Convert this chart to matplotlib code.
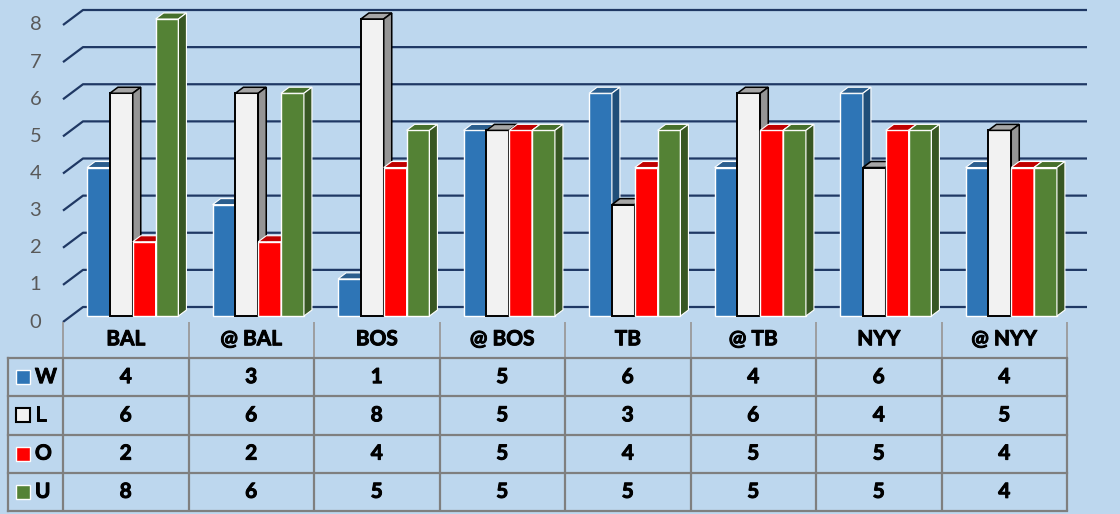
import matplotlib
matplotlib.use('Agg')
import matplotlib.pyplot as plt
import matplotlib.patheffects as pe
from matplotlib.patches import Polygon

# ---------------- data ----------------
categories = ['BAL', '@ BAL', 'BOS', '@ BOS', 'TB', '@ TB', 'NYY', '@ NYY']
series_names = ['W', 'L', 'O', 'U']
W = [4, 3, 1, 5, 6, 4, 6, 4]
L = [6, 6, 8, 5, 3, 6, 4, 5]
O = [2, 2, 4, 5, 4, 5, 5, 4]
U = [8, 6, 5, 5, 5, 5, 5, 4]
y_ticks = [0, 1, 2, 3, 4, 5, 6, 7, 8]

series_values = [W, L, O, U]
front_colors = ['#2E75B6', '#F2F2F2', '#FF0000', '#548235']
top_colors = ['#2B5E8E', '#A6A6A6', '#C00000', '#46702C']
side_colors = ['#1F4E79', '#959595', '#C00000', '#385723']
edge_colors = ['white', 'black', 'white', 'white']

BG = '#BDD7EE'
GRID = '#1F3864'
FONT = ['Lato', 'DejaVu Sans']
BOLD_FX = [pe.withStroke(linewidth=0.7, foreground='black')]

W_PX, H_PX = 1120, 514
fig = plt.figure(figsize=(W_PX / 100, H_PX / 100), dpi=100)
fig.patch.set_facecolor(BG)

# plot area (front plane) in pixels
X0, X1 = 63, 1067
Y0, Y8 = 322, 25
ax = fig.add_axes([X0 / W_PX, 1 - Y0 / H_PX, (X1 - X0) / W_PX, (Y0 - Y8) / H_PX])
ax.set_xlim(0, 8)
ax.set_ylim(0, 8)
ax.axis('off')
ax.patch.set_alpha(0)

px_x = (X1 - X0) / 8.0
px_y = (Y0 - Y8) / 8.0

def dxu(p):
    return p / px_x

def dyu(p):
    return p / px_y

# 3D offsets
BACK_X, BACK_Y = dxu(20), dyu(15)
FRONT_X, FRONT_Y = dxu(7), dyu(6)
DEP_X, DEP_Y = dxu(8), dyu(6)

# gridlines: diagonal + back horizontal
for v in y_ticks:
    ax.plot([0, BACK_X, 8 + BACK_X], [v, v + BACK_Y, v + BACK_Y],
            color=GRID, lw=1.6, zorder=1, clip_on=False, solid_capstyle='butt')
    ax.text(-dxu(63 - 35.5), v, str(v), ha='center', va='center',
            color='#595959', fontsize=14.5, family=FONT)

# bars
bw = 0.182
n = len(series_values)
for s, vals in enumerate(series_values):
    xs = [i + 0.5 - n * bw / 2 + s * bw + FRONT_X for i in range(len(categories))]
    z = 2 + s * 3
    lw = 1.4 if edge_colors[s] == 'black' else 1.0
    ax.bar(xs, vals, width=bw, bottom=FRONT_Y, align='edge',
           color=front_colors[s], edgecolor=edge_colors[s], linewidth=lw,
           zorder=z, clip_on=False)
    for x, v in zip(xs, vals):
        yt = v + FRONT_Y
        top = Polygon([(x, yt), (x + bw, yt), (x + bw + DEP_X, yt + DEP_Y), (x + DEP_X, yt + DEP_Y)],
                      closed=True, facecolor=top_colors[s], edgecolor=edge_colors[s],
                      linewidth=lw * 0.8, zorder=z + 1, clip_on=False)
        side = Polygon([(x + bw, FRONT_Y), (x + bw + DEP_X, FRONT_Y + DEP_Y),
                        (x + bw + DEP_X, yt + DEP_Y), (x + bw, yt)],
                       closed=True, facecolor=side_colors[s], edgecolor=edge_colors[s],
                       linewidth=lw * 0.8, zorder=z + 2, clip_on=False)
        ax.add_patch(top)
        ax.add_patch(side)

# ---------------- data table ----------------
TX0, TY_TOP, TY_BOT = 8, 322, 511
tax = fig.add_axes([TX0 / W_PX, 1 - TY_BOT / H_PX, (X1 - TX0) / W_PX, (TY_BOT - TY_TOP) / H_PX])
row_h = (TY_BOT - 358) / 4.0
xleft = -(X0 - TX0) / px_x
ytop = 4 + (358 - TY_TOP) / row_h
tax.set_xlim(xleft, 8)
tax.set_ylim(0, ytop)
tax.axis('off')
tax.patch.set_alpha(0)

TLINE = '#7F7F7F'
for c in range(9):
    tax.plot([c, c], [4, ytop], color='#9A9A9A', lw=1.3, clip_on=False, solid_capstyle='butt')
    tax.plot([c, c], [0, 4], color=TLINE, lw=1.6, clip_on=False, solid_capstyle='butt')
for r in range(5):
    tax.plot([xleft, 8], [r, r], color=TLINE, lw=1.6, clip_on=False, solid_capstyle='projecting')
tax.plot([xleft, xleft], [0, 4], color=TLINE, lw=1.6, clip_on=False, solid_capstyle='projecting')

for i, cat in enumerate(categories):
    tax.text(i + 0.5, 4 + (ytop - 4) * 0.52, cat, ha='center', va='center',
             fontsize=15, fontweight='bold', family=FONT, color='black', path_effects=BOLD_FX)

for s, (name, vals) in enumerate(zip(series_names, series_values)):
    yc = 3.5 - s
    tax.plot([xleft + dxu(23 - TX0)], [yc], marker='s', ms=10,
             mfc=front_colors[s], mec=('black' if edge_colors[s] == 'black' else 'white'),
             mew=1.5 if edge_colors[s] == 'black' else 1.0, clip_on=False)
    tax.text(xleft + dxu(35 - TX0), yc, name, ha='left', va='center',
             fontsize=15, fontweight='bold', family=FONT, color='black', path_effects=BOLD_FX)
    for i, v in enumerate(vals):
        tax.text(i + 0.5, yc, str(v), ha='center', va='center',
                 fontsize=15, fontweight='bold', family=FONT, color='black', path_effects=BOLD_FX)

fig.savefig('out.png', dpi=100, facecolor=BG)
